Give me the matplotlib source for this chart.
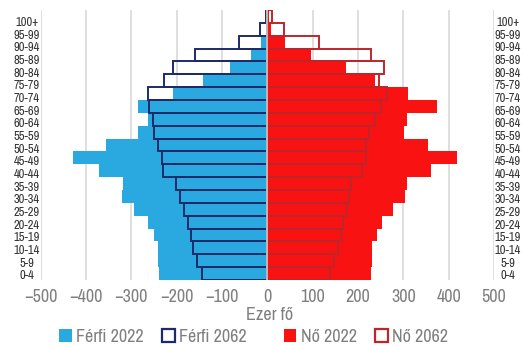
import matplotlib
matplotlib.use("Agg")
import matplotlib.pyplot as plt
from matplotlib.patches import Patch

# Age groups, bottom to top
age_groups = ["0-4", "5-9", "10-14", "15-19", "20-24", "25-29", "30-34", "35-39",
              "40-44", "45-49", "50-54", "55-59", "60-64", "65-69", "70-74",
              "75-79", "80-84", "85-89", "90-94", "95-99", "100+"]

# Population, thousand persons (men shown as negative values)
male_2022 = [-238, -240, -240, -249, -262, -293, -321, -319, -372, -428, -355,
             -286, -263, -286, -208, -141, -82, -36, -13, -3, -0.5]
male_2062 = [-144, -154, -163, -168, -174, -183, -192, -202, -229, -231, -240,
             -249, -252, -260, -262, -227, -208, -159, -63, -15, -2]
female_2022 = [229, 231, 230, 241, 252, 278, 304, 308, 361, 418, 355,
               302, 308, 374, 311, 238, 174, 96, 39, 9, 3]
female_2062 = [139, 148, 157, 163, 166, 176, 181, 185, 210, 218, 218,
               225, 238, 251, 263, 247, 258, 229, 115, 36, 10]

x_ticks = [-500, -400, -300, -200, -100, 0, 100, 200, 300, 400, 500]
x_label = "Ezer fő"
legend_labels = ["Férfi 2022", "Férfi 2062", "Nő 2022", "Nő 2062"]

c_male = "#29A9E0"
c_male_out = "#1E2A6A"
c_female = "#F91212"
c_female_out = "#BE262C"
c_text = "#7F7F7F"
c_grid = "#D9D9D9"

plt.rcParams["font.family"] = ["Archivo Narrow", "DejaVu Sans"]

W, H = 528, 346
fig = plt.figure(figsize=(W / 100, H / 100), dpi=100)
ax = fig.add_axes([40.5 / W, 1 - 280 / H, (494 - 40.5) / W, 270 / H])

pos = list(range(len(age_groups)))
ax.barh(pos, male_2022, height=1.0, color=c_male, zorder=2)
ax.barh(pos, female_2022, height=1.0, color=c_female, zorder=2)
ax.barh(pos, male_2062, height=1.0, fill=False, edgecolor=c_male_out,
        linewidth=1.4, zorder=3)
ax.barh(pos, female_2062, height=1.0, fill=False, edgecolor=c_female_out,
        linewidth=1.4, zorder=3)
ax.axvline(0, color="#C4C4C4", linewidth=1.3, zorder=4)

ax.set_xlim(-500, 500)
ax.set_ylim(-0.5, len(age_groups) - 0.5)
ax.set_xticks(x_ticks)
ax.set_xticklabels([f"{v}".replace("-", "\u2212") for v in x_ticks])
ax.tick_params(axis="x", length=0, pad=6.5, labelsize=13, labelcolor=c_text)
ax.set_yticks([])
ax.grid(axis="x", color=c_grid, linewidth=1.2, zorder=0)
ax.set_axisbelow(True)
for s in ax.spines.values():
    s.set_visible(False)

# Age-group labels on both sides, centred in their margins
lab = ax.twinx()
lab.set_ylim(-0.395, 20.92)
lab.set_yticks(pos)
lab.set_yticklabels(age_groups)
lab.tick_params(axis="y", length=0, labelsize=9, labelcolor="#333333",
                left=False, right=False, labelleft=True, labelright=True,
                pad=10)
for t in lab.yaxis.get_majorticklabels():
    t.set_horizontalalignment("center")
for s in lab.spines.values():
    s.set_visible(False)

fig.text(270 / W, 1 - 315 / H, x_label, ha="center", va="center",
         fontsize=13, color=c_text)

handles = [
    Patch(facecolor=c_male, edgecolor="none"),
    Patch(facecolor="white", edgecolor=c_male_out, linewidth=1.6),
    Patch(facecolor=c_female, edgecolor="none"),
    Patch(facecolor="white", edgecolor=c_female_out, linewidth=1.6),
]
common = dict(frameon=False, fontsize=13, labelcolor=c_text, handlelength=0.7,
              handleheight=0.7, handletextpad=0.25, columnspacing=1.0,
              borderpad=0, borderaxespad=0, ncol=2, loc="center")
fig.legend(handles[:2], legend_labels[:2],
           bbox_to_anchor=(153 / W, 1 - 337 / H), **common)
fig.legend(handles[2:], legend_labels[2:],
           bbox_to_anchor=(366 / W, 1 - 337 / H), **common)

fig.savefig("out.png", dpi=100)
